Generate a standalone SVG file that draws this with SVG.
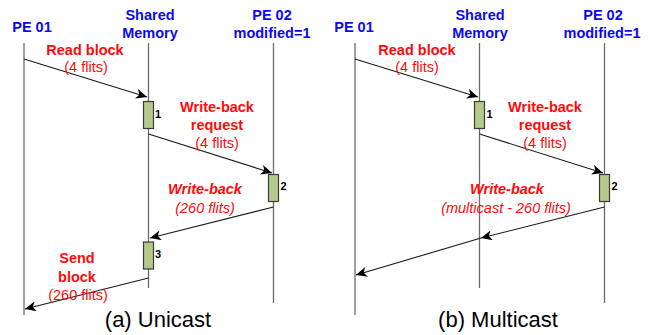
<svg xmlns="http://www.w3.org/2000/svg" width="652" height="335" viewBox="0 0 652 335">
  <style>
    .head { font-family: "Liberation Sans", Arial, sans-serif; font-size: 14.5px; font-weight: bold; fill: #0A0AF0; text-anchor: middle; }
    .msg { font-family: "Liberation Sans", Arial, sans-serif; font-size: 14.5px; fill: #FF0A0A; text-anchor: middle; }
    .msgb { font-weight: bold; }
    .it { font-style: italic; }
    .cap { font-family: "Liberation Sans", Arial, sans-serif; font-size: 22px; fill: #000; text-anchor: middle; }
    .num { font-family: "Liberation Sans", Arial, sans-serif; font-size: 11px; font-weight: bold; fill: #000; }
    .life { stroke: #6a6a6a; stroke-width: 1.3; fill: none; }
    .act { fill: #B5C98A; stroke: #3a3a3a; stroke-width: 1.2; }
    .arrow { stroke: #1a1a1a; stroke-width: 1.1; fill: none; marker-end: url(#head); }
  </style>
  <defs>
    <marker id="head" markerWidth="12" markerHeight="10" refX="11" refY="5" orient="auto" markerUnits="userSpaceOnUse">
      <path d="M0,0 L11,5 L0,10 L3,5 Z" fill="#000"/>
    </marker>
  </defs>
  <rect width="652" height="335" fill="#fff"/>

  <!-- (a) Unicast -->
  <g id="a-pe01">
    <line class="life" x1="24" y1="43" x2="24" y2="315"/>
    <text class="head" x="32" y="32">PE 01</text>
  </g>
  <g id="a-mem">
    <line class="life" x1="148.5" y1="43" x2="148.5" y2="288"/>
    <text class="head" x="150" y="20">Shared</text>
    <text class="head" x="150" y="38">Memory</text>
  </g>
  <g id="a-pe02">
    <line class="life" x1="273.5" y1="43" x2="273.5" y2="303"/>
    <text class="head" x="272" y="20">PE 02</text>
    <text class="head" x="272" y="38">modified=1</text>
  </g>
  <g id="a-act1">
    <rect class="act" x="143.5" y="101.5" width="10" height="27"/>
    <text class="num" x="155" y="118">1</text>
  </g>
  <g id="a-act2">
    <rect class="act" x="268.5" y="174.5" width="10" height="27"/>
    <text class="num" x="280.5" y="190">2</text>
  </g>
  <g id="a-act3">
    <rect class="act" x="143.5" y="242" width="10" height="27"/>
    <text class="num" x="155" y="258">3</text>
  </g>
  <g id="a-connectors">
    <line class="arrow" x1="24" y1="59" x2="147" y2="97"/>
    <line class="arrow" x1="148.5" y1="134" x2="272" y2="173"/>
    <line class="arrow" x1="273.5" y1="207" x2="150" y2="238"/>
    <line class="arrow" x1="148.5" y1="278" x2="25" y2="309"/>
  </g>
  <g id="a-labels">
    <text class="msg msgb" x="85" y="55">Read block</text>
    <text class="msg" x="86" y="72">(4 flits)</text>
    <text class="msg msgb" x="217" y="112">Write-back</text>
    <text class="msg msgb" x="217" y="130">request</text>
    <text class="msg" x="217" y="148">(4 flits)</text>
    <text class="msg msgb it" x="205" y="194">Write-back</text>
    <text class="msg it" x="205" y="213">(260 flits)</text>
    <text class="msg msgb" x="77" y="263">Send</text>
    <text class="msg msgb" x="77" y="282">block</text>
    <text class="msg" x="78" y="300">(260 flits)</text>
  </g>
  <text class="cap" x="158" y="327">(a) Unicast</text>

  <!-- (b) Multicast -->
  <g id="b-pe01">
    <line class="life" x1="355" y1="43" x2="355" y2="315"/>
    <text class="head" x="354" y="32">PE 01</text>
  </g>
  <g id="b-mem">
    <line class="life" x1="479.5" y1="43" x2="479.5" y2="288"/>
    <text class="head" x="480" y="20">Shared</text>
    <text class="head" x="480" y="38">Memory</text>
  </g>
  <g id="b-pe02">
    <line class="life" x1="604.5" y1="43" x2="604.5" y2="303"/>
    <text class="head" x="603" y="20">PE 02</text>
    <text class="head" x="602" y="38">modified=1</text>
  </g>
  <g id="b-act1">
    <rect class="act" x="474.5" y="101.5" width="10" height="27"/>
    <text class="num" x="486.5" y="118">1</text>
  </g>
  <g id="b-act2">
    <rect class="act" x="599.5" y="174.5" width="10" height="27"/>
    <text class="num" x="611.5" y="190">2</text>
  </g>
  <g id="b-connectors">
    <line class="arrow" x1="604.5" y1="207" x2="481" y2="238"/>
    <line class="arrow" x1="355" y1="59" x2="478" y2="97"/>
    <line class="arrow" x1="479.5" y1="134" x2="603" y2="173"/>
    <line class="arrow" x1="481" y1="238" x2="356" y2="275"/>
  </g>
  <g id="b-labels">
    <text class="msg msgb" x="417" y="55">Read block</text>
    <text class="msg" x="417" y="72">(4 flits)</text>
    <text class="msg msgb" x="545" y="112">Write-back</text>
    <text class="msg msgb" x="545" y="130">request</text>
    <text class="msg" x="545" y="148">(4 flits)</text>
    <text class="msg msgb it" x="507" y="194">Write-back</text>
    <text class="msg it" x="506" y="213">(multicast - 260 flits)</text>
  </g>
  <text class="cap" x="498" y="327">(b) Multicast</text>
</svg>
